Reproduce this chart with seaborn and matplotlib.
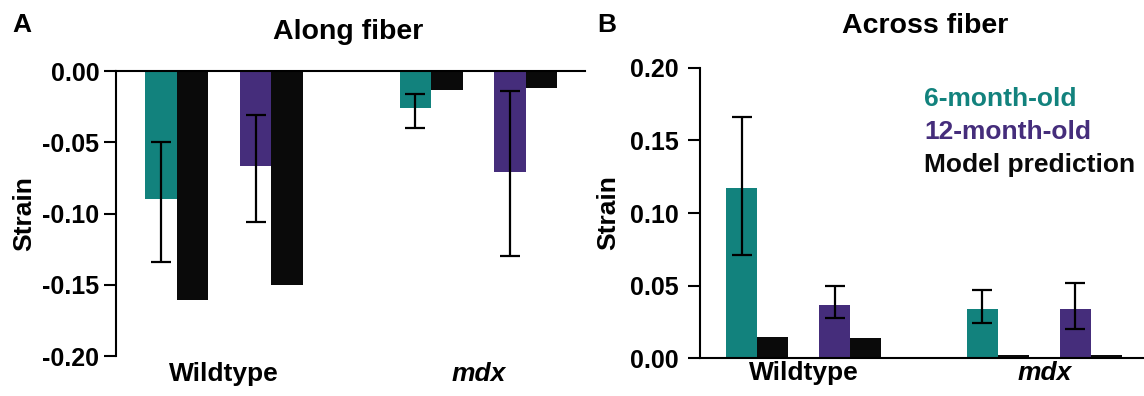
import numpy as np
import pandas as pd
import matplotlib
matplotlib.use("Agg")
import matplotlib.pyplot as plt
import matplotlib.colors as mcolors
import seaborn as sns

# ---------------------------------------------------------------- data
genotypes = ["Wildtype", "mdx"]

# Along-fiber strain (mean, lower/upper error bar ends)
along_6mo = [-0.090, -0.026]
along_6mo_lo = [-0.134, -0.040]
along_6mo_hi = [-0.050, -0.016]
along_12mo = [-0.067, -0.071]
along_12mo_lo = [-0.106, -0.130]
along_12mo_hi = [-0.031, -0.014]
along_model_6mo = [-0.161, -0.013]
along_model_12mo = [-0.150, -0.012]

# Across-fiber strain
across_6mo = [0.117, 0.034]
across_6mo_lo = [0.071, 0.024]
across_6mo_hi = [0.166, 0.047]
across_12mo = [0.037, 0.034]
across_12mo_lo = [0.028, 0.020]
across_12mo_hi = [0.050, 0.052]
across_model_6mo = [0.015, 0.002]
across_model_12mo = [0.014, 0.002]

legend_labels = ["6-month-old", "12-month-old", "Model prediction"]

# ---------------------------------------------------------------- style
TEAL = "#12827d"
PURPLE = "#452d7b"
BLACK = "#0a0a0a"

sns.set_style("ticks")
plt.rcParams["font.family"] = ["Liberation Sans", "DejaVu Sans"]
plt.rcParams["font.weight"] = "bold"
plt.rcParams["axes.unicode_minus"] = False
plt.rcParams["axes.linewidth"] = 1.5
for key in ["text.color", "axes.labelcolor", "xtick.color", "ytick.color",
            "axes.edgecolor"]:
    plt.rcParams[key] = "black"

hue_order = ["6-month-old", "model 6", "spacer", "12-month-old", "model 12"]
palette = {"6-month-old": TEAL, "model 6": BLACK, "spacer": "white",
           "12-month-old": PURPLE, "model 12": BLACK}

TICK_FS = 18
XLAB_FS = 19
TITLE_FS = 20.5
KEY_FS = 19


def build_frame(m6, p6, m12, p12):
    rows = []
    for i, g in enumerate(genotypes):
        rows.append((g, "6-month-old", m6[i]))
        rows.append((g, "model 6", p6[i]))
        rows.append((g, "12-month-old", m12[i]))
        rows.append((g, "model 12", p12[i]))
    return pd.DataFrame(rows, columns=["genotype", "series", "strain"])


def bar_centers(ax, color):
    rgba = mcolors.to_rgba(color)
    xs = [p.get_x() + p.get_width() / 2 for p in ax.patches
          if np.allclose(p.get_facecolor(), rgba)]
    return sorted(xs)


def draw_panel(ax, df, width, errs):
    sns.barplot(data=df, x="genotype", y="strain", hue="series",
                order=genotypes, hue_order=hue_order, palette=palette,
                saturation=1, width=width, errorbar=None, legend=False,
                linewidth=0, ax=ax)
    for color, mean, lo, hi in errs:
        xs = bar_centers(ax, color)
        mean = np.asarray(mean)
        yerr = [mean - np.asarray(lo), np.asarray(hi) - mean]
        ax.errorbar(xs, mean, yerr=yerr, fmt="none", ecolor="black",
                    elinewidth=1.6, capsize=7, capthick=1.6, zorder=5)
    ax.set_xlabel("")
    ax.set_ylabel("Strain", fontsize=19, fontweight="bold")
    ax.yaxis.label.set_verticalalignment("center")
    for lbl in ax.get_xticklabels():
        lbl.set_fontsize(XLAB_FS)
        lbl.set_fontweight("bold")
        if lbl.get_text() == "mdx":
            lbl.set_style("italic")


fig = plt.figure(figsize=(11.44, 3.96), dpi=100)

# ---------------------------------------------------------------- panel A
axA = fig.add_axes([0.1014, 0.1010, 0.4100, 0.7197])
dfA = build_frame(along_6mo, along_model_6mo, along_12mo, along_model_12mo)
draw_panel(axA, dfA, 0.62,
           [(TEAL, along_6mo, along_6mo_lo, along_6mo_hi),
            (PURPLE, along_12mo, along_12mo_lo, along_12mo_hi)])
axA.set_ylim(-0.2, 0)
axA.set_xlim(-0.425, 1.419)
axA.set_yticks([-0.20, -0.15, -0.10, -0.05, 0.0])
axA.set_yticklabels(["-0.20", "-0.15", "-0.10", "-0.05", "0.00"],
                    fontsize=TICK_FS, fontweight="bold")
axA.spines["bottom"].set_visible(False)
axA.spines["right"].set_visible(False)
axA.spines["top"].set_visible(True)
axA.tick_params(axis="y", length=9, width=1.5, pad=3)
axA.tick_params(axis="x", length=0, pad=4)
axA.yaxis.set_label_coords(-0.195, 0.5)
axA.text(0.495, 1.112, "Along fiber", transform=axA.transAxes,
         ha="center", va="baseline", fontsize=TITLE_FS, fontweight="bold")
fig.text(0.011, 0.92, "A", ha="left", va="baseline",
         fontsize=19, fontweight="bold")

# ---------------------------------------------------------------- panel B
axB = fig.add_axes([0.6115, 0.0952, 0.3885, 0.7338])
dfB = build_frame(across_6mo, across_model_6mo, across_12mo, across_model_12mo)
draw_panel(axB, dfB, 0.644,
           [(TEAL, across_6mo, across_6mo_lo, across_6mo_hi),
            (PURPLE, across_12mo, across_12mo_lo, across_12mo_hi)])
axB.set_ylim(0, 0.2)
axB.set_xlim(-0.432, 1.414)
axB.set_yticks([0.0, 0.05, 0.10, 0.15, 0.20])
axB.set_yticklabels(["0.00", "0.05", "0.10", "0.15", "0.20"],
                    fontsize=TICK_FS, fontweight="bold")
sns.despine(ax=axB)
axB.tick_params(axis="y", length=9, width=1.5, pad=6)
axB.tick_params(axis="x", length=0, pad=2)
axB.yaxis.set_label_coords(-0.205, 0.5)
axB.text(0.507, 1.12, "Across fiber", transform=axB.transAxes,
         ha="center", va="baseline", fontsize=TITLE_FS, fontweight="bold")
fig.text(0.5217, 0.92, "B", ha="left", va="baseline",
         fontsize=19, fontweight="bold")

# colored text key
for i, (label, color) in enumerate(zip(legend_labels, [TEAL, PURPLE, BLACK])):
    fig.text(924 / 1144, 1 - (106 + i * 33) / 396, label, color=color,
             ha="left", va="baseline", fontsize=KEY_FS, fontweight="bold")

fig.savefig("out.png", dpi=100)
